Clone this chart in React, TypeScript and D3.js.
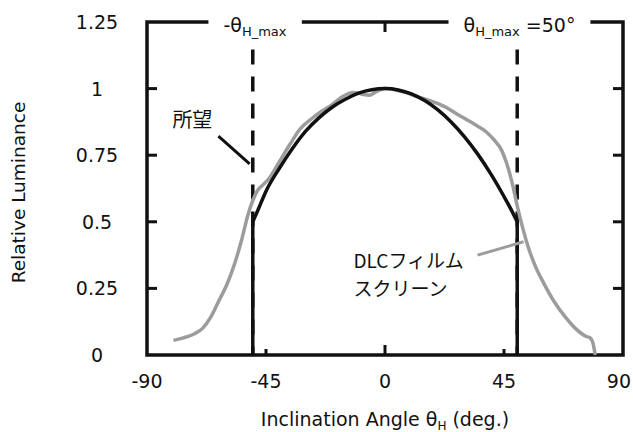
import React, { useEffect, useRef } from "react";
import * as d3 from "d3";

// axis ticks
const xTicks = [-90, -45, 0, 45, 90];
const yTicks = [0, 0.25, 0.5, 0.75, 1, 1.25];
const yTickLabels = ["0", "0.25", "0.5", "0.75", "1", "1.25"];

// 所望 (desired) profile, angle in deg -> relative luminance
const desiredAngle = [-50, -48, -45, -40, -35, -30, -25, -20, -15, -10, -5, 0, 5, 10, 15, 20, 25, 30, 35, 40, 45, 48, 50];
const desiredValue = [0.5, 0.545, 0.615, 0.7, 0.775, 0.84, 0.89, 0.93, 0.96, 0.983, 0.996, 1, 0.995, 0.98, 0.955, 0.92, 0.875, 0.82, 0.755, 0.68, 0.595, 0.54, 0.5];
const cutoffAngle = [-50, 50];
const cutoffValue = 0.5;

// DLCフィルムスクリーン measured profile
const dlcAngle = [-80, -76, -72, -69, -66, -63, -60, -58, -56, -54, -52, -50, -48, -46, -44, -40, -36, -32, -28, -24, -20, -16, -12, -9, -6, -3, 0, 4, 8, 12, 17, 22, 28, 34, 38, 41, 44, 46, 48, 50, 52, 54, 57, 60, 64, 68, 72, 76, 77.5, 78.5, 79.5];
const dlcValue = [0.055, 0.065, 0.08, 0.1, 0.14, 0.2, 0.26, 0.31, 0.37, 0.44, 0.52, 0.58, 0.62, 0.64, 0.66, 0.725, 0.79, 0.85, 0.885, 0.915, 0.94, 0.97, 0.985, 0.98, 0.975, 0.99, 1, 0.995, 0.985, 0.97, 0.955, 0.935, 0.9, 0.865, 0.84, 0.81, 0.77, 0.72, 0.65, 0.56, 0.48, 0.41, 0.33, 0.27, 0.2, 0.145, 0.1, 0.07, 0.065, 0.05, 0];

// design limit θH_max
const thetaMax = 50;

const FONT = "'DejaVu Sans', Verdana, sans-serif";
const CJK = "'Noto Sans CJK JP', 'Noto Sans CJK SC', sans-serif";

export default function App() {
  const svgRef = useRef<SVGSVGElement | null>(null);

  useEffect(() => {
    const width = 633;
    const height = 432;
    const marginTop = 22;
    const marginRight = 10;
    const marginBottom = 77;
    const marginLeft = 147;

    const x = d3.scaleLinear().domain([-90, 90]).range([marginLeft, width - marginRight]);
    const y = d3.scaleLinear().domain([0, 1.25]).range([height - marginBottom, marginTop]);

    const svg = d3.select(svgRef.current);
    svg.selectAll("*").remove();
    svg.append("rect").attr("width", width).attr("height", height).attr("fill", "white");

    const x0 = x(-90), x1 = x(90), yB = y(0), yT = y(1.25);

    // --- tick marks (inward) ---
    const tickG = svg.append("g").attr("stroke", "#111").attr("stroke-width", 3);
    yTicks.slice(1, -1).forEach((v) => {
      tickG.append("line").attr("x1", x0).attr("x2", x0 + 10).attr("y1", y(v)).attr("y2", y(v));
      tickG.append("line").attr("x1", x1).attr("x2", x1 - 10).attr("y1", y(v)).attr("y2", y(v));
    });
    xTicks.slice(1, -1).forEach((v) => {
      const len = v === 0 ? 10 : 6;
      tickG.append("line").attr("x1", x(v)).attr("x2", x(v)).attr("y1", yB).attr("y2", yB - len);
    });
    tickG.append("line").attr("x1", x(0)).attr("x2", x(0)).attr("y1", yT).attr("y2", yT + 10);

    // --- tick labels ---
    svg.append("g")
      .selectAll("text")
      .data(yTicks)
      .join("text")
      .attr("x", 97)
      .attr("y", (d) => y(d) + 7)
      .attr("text-anchor", "middle")
      .attr("font-family", FONT)
      .attr("font-size", 19)
      .attr("fill", "#111")
      .text((_, i) => yTickLabels[i]);

    // last label is pulled inside the page edge, as in the original
    svg.append("g")
      .selectAll("text")
      .data(xTicks)
      .join("text")
      .attr("x", (d) => (d === 90 ? width - 2 : x(d)))
      .attr("y", yB + 33)
      .attr("text-anchor", (d) => (d === 90 ? "end" : "middle"))
      .attr("font-family", FONT)
      .attr("font-size", 19)
      .attr("fill", "#111")
      .text((d) => String(d));

    // --- axis titles ---
    svg.append("text")
      .attr("transform", `translate(25,${(yB + yT) / 2 + 4}) rotate(-90)`)
      .attr("text-anchor", "middle")
      .attr("font-family", FONT)
      .attr("font-size", 18.5)
      .attr("fill", "#111")
      .text("Relative Luminance");

    const xt = svg.append("text")
      .attr("x", x(0))
      .attr("y", 426)
      .attr("text-anchor", "middle")
      .attr("font-family", FONT)
      .attr("font-size", 19)
      .attr("fill", "#111");
    xt.append("tspan").text("Inclination Angle θ");
    xt.append("tspan").attr("font-size", 12).attr("dy", 4).text("H");
    xt.append("tspan").attr("dy", -4).text(" (deg.)");

    // --- top labels for ±θH_max ---
    const topY = y(1.2125);
    const tl = svg.append("text")
      .attr("x", x(-61.1))
      .attr("y", topY)
      .attr("font-family", FONT)
      .attr("font-size", 19)
      .attr("fill", "#111");
    tl.append("tspan").text("-θ");
    tl.append("tspan").attr("font-size", 13).attr("dy", 4).text("H_max");

    const tr = svg.append("text")
      .attr("x", x(29.7))
      .attr("y", topY)
      .attr("font-family", FONT)
      .attr("font-size", 19)
      .attr("fill", "#111");
    tr.append("tspan").text("θ");
    tr.append("tspan").attr("font-size", 13).attr("dy", 4).text("H_max");
    tr.append("tspan").attr("dy", -4).text(` =${thetaMax}°`);

    // --- frame, top border broken around the labels ---
    const bl = (tl.node() as SVGTextElement).getBBox();
    const br = (tr.node() as SVGTextElement).getBBox();
    const pad = 15;
    const frame = svg.append("g").attr("stroke", "#111").attr("stroke-width", 3.5).attr("fill", "none");
    frame.append("path").attr("d", `M${bl.x - pad},${yT}H${x0}V${yB}H${x1}V${yT}H${br.x + br.width + pad}`);
    frame.append("path").attr("d", `M${bl.x + bl.width + pad},${yT}H${br.x - pad}`);

    // --- dashed θH_max lines ---
    [-thetaMax, thetaMax].forEach((a) => {
      svg.append("line")
        .attr("x1", x(a)).attr("x2", x(a))
        .attr("y1", y(1.147)).attr("y2", yB)
        .attr("stroke", "#111")
        .attr("stroke-width", 3.5)
        .attr("stroke-dasharray", "15,12");
    });

    // --- DLC film screen curve (gray) ---
    const line = d3.line<[number, number]>()
      .x((d) => x(d[0]))
      .y((d) => y(d[1]))
      .curve(d3.curveMonotoneX);

    const dlc = dlcAngle.map((a, i) => [a, dlcValue[i]] as [number, number]);
    svg.append("path")
      .attr("d", line(dlc))
      .attr("fill", "none")
      .attr("stroke", "#9c9c9c")
      .attr("stroke-width", 3.5);

    // --- desired curve (black) ---
    const desired = desiredAngle.map((a, i) => [a, desiredValue[i]] as [number, number]);
    svg.append("path")
      .attr("d", line(desired))
      .attr("fill", "none")
      .attr("stroke", "#111")
      .attr("stroke-width", 3.5);
    cutoffAngle.forEach((a) => {
      svg.append("line")
        .attr("x1", x(a)).attr("x2", x(a))
        .attr("y1", y(cutoffValue)).attr("y2", yB)
        .attr("stroke", "#111")
        .attr("stroke-width", 3.5);
    });

    // --- annotations ---
    svg.append("line")
      .attr("x1", x(-63)).attr("y1", y(0.822))
      .attr("x2", x(-51.2)).attr("y2", y(0.717))
      .attr("stroke", "#111").attr("stroke-width", 3);
    svg.append("text")
      .attr("x", x(-80.4)).attr("y", y(0.856))
      .attr("font-family", CJK).attr("font-size", 20).attr("fill", "#111")
      .text("所望");

    svg.append("line")
      .attr("x1", x(35)).attr("y1", y(0.375))
      .attr("x2", x(52.4)).attr("y2", y(0.425))
      .attr("stroke", "#9c9c9c").attr("stroke-width", 3);
    const dl = svg.append("text")
      .attr("font-family", CJK).attr("font-size", 19).attr("fill", "#111");
    dl.append("tspan").attr("x", x(-11.9)).attr("y", y(0.327)).text("DLCフィルム");
    dl.append("tspan").attr("x", x(-11.9)).attr("y", y(0.221)).text("スクリーン");
  }, []);

  return (
    <>
      <style>{`body{margin:0}`}</style>
      <svg ref={svgRef} width={633} height={432} style={{ display: "block" }} />
    </>
  );
}
